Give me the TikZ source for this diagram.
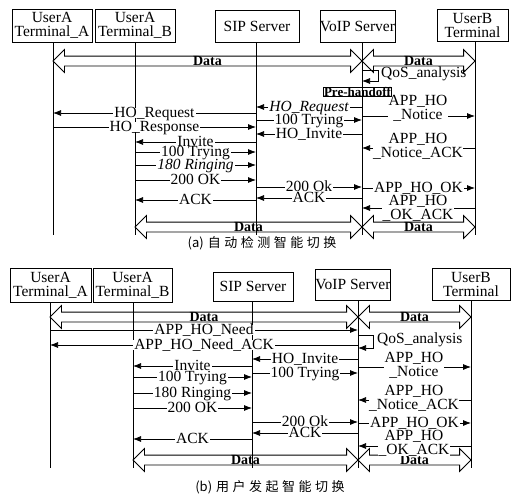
\documentclass[tikz,border=0pt]{standalone}
\usepackage{fontspec}
\setmainfont{Liberation Serif}
\newfontfamily\cjk{Noto Sans CJK SC}
\usetikzlibrary{arrows.meta,shapes.arrows}
\newcommand\basefont{\fontsize{15.5}{14}\selectfont}
\newcommand\cg{\hspace{3.5pt}}
\begin{document}
\begin{tikzpicture}[x=1pt,y=-1pt,
  every node/.style={font=\basefont},
  actor/.style={draw,line width=0.9pt,align=center,inner sep=0pt},
  life/.style={line width=0.8pt},
  msg/.style={line width=0.75pt,-{Latex[length=8pt,width=6pt]}},
  lbl/.style={fill=white,inner xsep=1pt,inner ysep=0pt,text height=9pt,text depth=1pt},
  ilbl/.style={lbl,font=\basefont\itshape},
  mlbl/.style={fill=white,inner sep=0.3pt,align=center},
  dataarr/.style={double arrow,draw,line width=0.8pt,fill=white,inner xsep=0pt,inner ysep=4.5pt,double arrow head extend=6.5pt},
  datalbl/.style={font=\fontsize{14}{14}\selectfont\bfseries,inner sep=0pt},
  qos/.style={anchor=west,inner sep=0pt},
  pre/.style={draw,line width=0.8pt,inner xsep=0.6pt,inner ysep=0.6pt,text height=8.5pt,text depth=0pt,font=\fontsize{13}{13}\selectfont\bfseries},
  capt/.style={font=\cjk\fontsize{13}{13}\selectfont},
]
\useasboundingbox (0,0) rectangle (521,499);

% ================= panel (a) =================
\node[actor,minimum width=80pt,minimum height=33pt] (ta1) at (52,25.5) {UserA\\Terminal\_A};
\node[actor,minimum width=80pt,minimum height=33pt] (tb1) at (135,25.5) {UserA\\Terminal\_B};
\node[actor,minimum width=84pt,minimum height=32pt] (sp1) at (257,26) {SIP Server};
\node[actor,minimum width=74pt,minimum height=32pt] (vo1) at (357.5,26) {VoIP Server};
\node[actor,minimum width=71pt,minimum height=32pt] (ub1) at (472.5,25) {UserB\\Terminal};

\coordinate (A1) at (53,42);  \coordinate (A1e) at (53,235);
\coordinate (B1) at (135,42); \coordinate (B1e) at (135,235);
\coordinate (S1) at (256,42); \coordinate (S1e) at (256,235);
\coordinate (V1) at (362,42); \coordinate (V1e) at (362,235);
\coordinate (U1) at (475,41); \coordinate (U1e) at (475,235);

\node[dataarr,minimum height=309pt] (d1) at (207.5,61) {};
\node[dataarr,minimum height=113pt] (d2) at (418.5,61) {};
\node[dataarr,minimum height=227pt] (d3) at (248.5,227) {};
\node[dataarr,minimum height=113pt] (d4) at (418.5,227) {};

\draw[life] (A1) -- (A1e);
\draw[life] (B1) -- (B1e);
\draw[life] (S1) -- (S1e);
\draw[life] (V1) -- (V1e);
\draw[life] (U1) -- (U1e);

\node[datalbl] (d1l) at (d1) {Data};
\node[datalbl] (d2l) at (d2) {Data};
\node[datalbl] (d3l) at (d3) {Data};
\node[datalbl] (d4l) at (d4) {Data};

\draw[msg] (V1 |- 0,70) -- ++(16,0) -- ++(0,11) -- ++(-16,0);
\node[qos] (q1) at (381,74) {QoS\_analysis};

\draw[msg] (V1 |- 0,107) -- node[ilbl] (a1) {HO\_Request} (S1 |- 0,107);
\draw[msg] (S1 |- 0,113) -- node[lbl] (a2) {HO\_Request} (A1 |- 0,113);
\draw[msg] (V1 |- 0,116) -- (U1 |- 0,116);
\node[mlbl] (a3) at (418,108) {APP\_HO\\\_Notice};
\draw[msg] (S1 |- 0,120) -- node[lbl] (a4) {100 Trying} (V1 |- 0,120);
\draw[msg] (A1 |- 0,127) -- node[lbl] (a5) {HO\_Response} (S1 |- 0,127);
\draw[msg] (V1 |- 0,134) -- node[lbl] (a6) {HO\_Invite} (S1 |- 0,134);
\draw[msg] (S1 |- 0,142) -- node[lbl] (a7) {Invite} (B1 |- 0,142);
\draw[msg] (U1 |- 0,148) -- (V1 |- 0,148);
\node[mlbl] (a8) at (418,146) {APP\_HO\\\_Notice\_ACK};
\draw[msg] (B1 |- 0,152) -- node[lbl] (a9) {100 Trying} (S1 |- 0,152);
\draw[msg] (B1 |- 0,165) -- node[ilbl] (a10) {180 Ringing} (S1 |- 0,165);
\draw[msg] (B1 |- 0,180) -- node[lbl] (a11) {200 OK} (S1 |- 0,180);
\draw[msg] (S1 |- 0,187) -- node[lbl] (a12) {200 Ok} (V1 |- 0,187);
\draw[msg] (V1 |- 0,188) -- node[lbl] (a13) {APP\_HO\_OK} (U1 |- 0,188);
\draw[msg] (V1 |- 0,198) -- node[lbl] (a14) {ACK} (S1 |- 0,198);
\draw[msg] (S1 |- 0,200) -- node[lbl] (a15) {ACK} (B1 |- 0,200);
\draw[msg] (U1 |- 0,208) -- (V1 |- 0,208);
\node[mlbl] (a16) at (418,208) {APP\_HO\\\_OK\_ACK};

\node[pre] (ph) at (357.5,92) {Pre-handoff};

\node[capt] (capa) at (262,243) {(a)\hspace{4pt}自\cg 动\cg 检\cg 测\cg 智\cg 能\cg 切\cg 换};

% ================= panel (b) =================
\node[actor,minimum width=81pt,minimum height=34pt] (ta2) at (50.5,285) {UserA\\Terminal\_A};
\node[actor,minimum width=79pt,minimum height=34pt] (tb2) at (132.5,285) {UserA\\Terminal\_B};
\node[actor,minimum width=80pt,minimum height=29pt] (sp2) at (253,286.5) {SIP Server};
\node[actor,minimum width=72pt,minimum height=31pt] (vo2) at (353,284.5) {VoIP Server};
\node[actor,minimum width=78pt,minimum height=32pt] (ub2) at (471,284) {UserB\\Terminal};

\coordinate (A2) at (50,302);  \coordinate (A2e) at (50,468);
\coordinate (B2) at (133,302); \coordinate (B2e) at (133,468);
\coordinate (S2) at (252,301); \coordinate (S2e) at (252,468);
\coordinate (V2) at (358,300); \coordinate (V2e) at (358,468);
\coordinate (U2) at (471,300); \coordinate (U2e) at (471,468);

\node[dataarr,minimum height=308pt] (d5) at (204,317) {};
\node[dataarr,minimum height=113pt] (d6) at (414.5,317) {};
\node[dataarr,minimum height=225pt] (d7) at (245.5,460) {};
\node[dataarr,minimum height=113pt] (d8) at (414.5,460) {};

\draw[life] (A2) -- (A2e);
\draw[life] (B2) -- (B2e);
\draw[life] (S2) -- (S2e);
\draw[life] (V2) -- (V2e);
\draw[life] (U2) -- (U2e);

\node[datalbl] (d5l) at (d5) {Data};
\node[datalbl] (d6l) at (d6) {Data};
\node[datalbl] (d7l) at (d7) {Data};
\node[datalbl] (d8l) at (d8) {Data};

\draw[msg] (A2 |- 0,330) -- node[lbl] (b1) {APP\_HO\_Need} (V2 |- 0,330);
\draw[msg] (V2 |- 0,335) -- ++(15,0) -- ++(0,13) -- ++(-15,0);
\node[qos] (q2) at (377,340) {QoS\_analysis};
\draw[msg] (V2 |- 0,345) -- node[lbl] (b2) {APP\_HO\_Need\_ACK} (A2 |- 0,345);
\draw[msg] (V2 |- 0,359) -- node[lbl] (b3) {HO\_Invite} (S2 |- 0,359);
\draw[msg] (S2 |- 0,366) -- node[lbl] (b4) {Invite} (B2 |- 0,366);
\draw[msg] (V2 |- 0,367) -- (U2 |- 0,367);
\node[mlbl] (b5) at (414,365) {APP\_HO\\\_Notice};
\draw[msg] (S2 |- 0,373) -- node[lbl] (b6) {100 Trying} (V2 |- 0,373);
\draw[msg] (B2 |- 0,377) -- node[lbl] (b7) {100 Trying} (S2 |- 0,377);
\draw[msg] (B2 |- 0,393) -- node[lbl] (b8) {180 Ringing} (S2 |- 0,393);
\draw[msg] (U2 |- 0,400) -- (V2 |- 0,400);
\node[mlbl] (b9) at (414,398) {APP\_HO\\\_Notice\_ACK};
\draw[msg] (B2 |- 0,408) -- node[lbl] (b10) {200 OK} (S2 |- 0,408);
\draw[msg] (S2 |- 0,422) -- node[lbl] (b11) {200 Ok} (V2 |- 0,422);
\draw[msg] (V2 |- 0,423) -- node[lbl] (b12) {APP\_HO\_OK} (U2 |- 0,423);
\draw[msg] (V2 |- 0,433) -- node[lbl] (b13) {ACK} (S2 |- 0,433);
\draw[msg] (S2 |- 0,439) -- node[lbl] (b14) {ACK} (B2 |- 0,439);
\draw[msg] (U2 |- 0,446) -- (V2 |- 0,446);
\node[mlbl] (b15) at (414,443) {APP\_HO\\\_OK\_ACK};

\node[capt] (capb) at (270,487) {(b)\hspace{4pt}用\cg 户\cg 发\cg 起\cg 智\cg 能\cg 切\cg 换};
\end{tikzpicture}
\end{document}
